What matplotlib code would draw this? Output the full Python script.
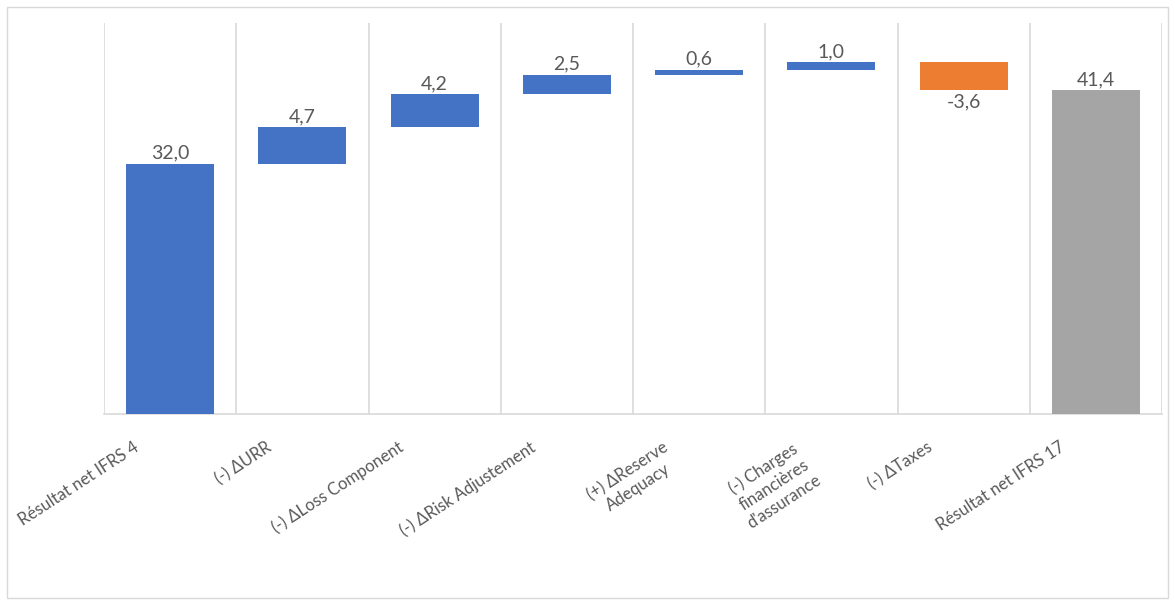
import numpy as np
import matplotlib.pyplot as plt
from matplotlib.transforms import ScaledTranslation
from matplotlib.patches import Rectangle

plt.rcParams['font.family'] = ['Lato', 'DejaVu Sans']

categories = ["Résultat net IFRS 4", "(-) ΔURR", "(-) ΔLoss Component",
              "(-) ΔRisk Adjustement", "(+) ΔReserve\nAdequacy",
              "(-) Charges\nfinancières\nd'assurance", "(-) ΔTaxes",
              "Résultat net IFRS 17"]
values = [32.0, 4.7, 4.2, 2.5, 0.6, 1.0, -3.6, 41.4]
is_total = [False, False, False, False, False, False, False, True]

c_up, c_down, c_total = '#4472C4', '#ED7D31', '#A5A5A5'
text_c = '#595959'
grid_c = '#D9D9D9'

# waterfall geometry
bottoms, heights, colors = [], [], []
running = 0.0
for v, tot in zip(values, is_total):
    if tot:
        bottoms.append(0)
        heights.append(v)
        colors.append(c_total)
        running = v
    else:
        bottoms.append(running if v >= 0 else running + v)
        heights.append(abs(v))
        colors.append(c_up if v >= 0 else c_down)
        running += v

fig = plt.figure(figsize=(11.75, 6.03), dpi=100)
ax = fig.add_axes([104 / 1175, 1 - 414 / 603, (1162 - 104) / 1175, (414 - 23) / 603])

x = np.arange(len(categories))
ax.bar(x, heights, bottom=bottoms, width=0.665, color=colors, zorder=3)

for xi, v, b, h in zip(x, values, bottoms, heights):
    lab = f"{v:.1f}".replace('.', ',')
    if v >= 0:
        ax.annotate(lab, (xi, b + h), xytext=(0, 1.5), textcoords='offset points',
                    ha='center', va='bottom', fontsize=14, color=text_c)
    else:
        ax.annotate(lab, (xi, b), xytext=(0, -2), textcoords='offset points',
                    ha='center', va='top', fontsize=14, color=text_c)

ax.set_xlim(-0.5, len(categories) - 0.5)
ax.set_ylim(0, 50)
ax.set_yticks([])
ax.set_xticks(x)
ax.set_xticklabels(categories, rotation=33, ha='right', va='top',
                   rotation_mode='anchor', fontsize=12, color=text_c,
                   multialignment='center', linespacing=1.25)
ax.tick_params(axis='x', length=0, pad=0)
shift = ScaledTranslation(-37 / 100, -25 / 100, fig.dpi_scale_trans)
for lbl in ax.get_xticklabels():
    lbl.set_transform(lbl.get_transform() + shift)

ax.set_xticks(np.arange(-0.5, len(categories)), minor=True)
ax.grid(which='minor', axis='x', color=grid_c, linewidth=1.2, zorder=0)
ax.tick_params(axis='x', which='minor', length=0)
for s in ['top', 'left', 'right']:
    ax.spines[s].set_visible(False)
ax.spines['bottom'].set_color(grid_c)
ax.spines['bottom'].set_linewidth(1.2)

fig.patches.append(Rectangle((7 / 1175, 5 / 603), 1161 / 1175, 591 / 603,
                             transform=fig.transFigure, fill=False,
                             edgecolor=grid_c, linewidth=1))

fig.savefig('out.png', dpi=100)
